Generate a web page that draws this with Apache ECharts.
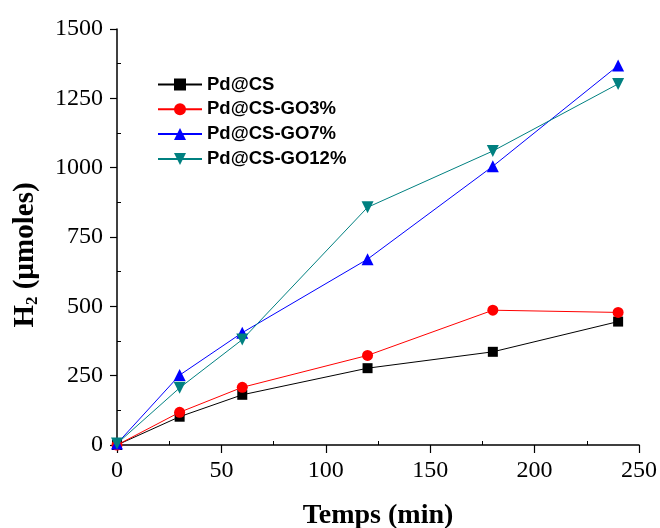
<!DOCTYPE html>
<html>
<head>
<meta charset="utf-8">
<script src="https://cdn.jsdelivr.net/npm/echarts@6/dist/echarts.min.js"></script>
<style>
html,body{margin:0;padding:0;background:#fff;}
#chart{width:660px;height:528px;}
</style>
</head>
<body>
<div id="chart"></div>
<script>
var times = [0, 30, 60, 120, 180, 240];
var seriesNames = ['Pd@CS', 'Pd@CS-GO3%', 'Pd@CS-GO7%', 'Pd@CS-GO12%'];
var pdCS = [0, 102, 181, 277, 336, 445];
var pdGO3 = [0, 118, 208, 323, 486, 478];
var pdGO7 = [5, 252, 405, 670, 1005, 1368];
var pdGO12 = [5, 206, 380, 857, 1060, 1302];
var xMinorTicks = [25, 75, 125, 175, 225];
var yMinorTicks = [125, 375, 625, 875, 1125, 1375];

function pairs(vals) {
  return times.map(function (t, i) { return [t, vals[i]]; });
}

var serif = 'Liberation Serif';
var sans = 'Liberation Sans';

function mkSeries(name, vals, color, symbol, size, rotate) {
  return {
    name: name,
    type: 'line',
    data: pairs(vals),
    symbol: symbol,
    symbolSize: size,
    symbolRotate: rotate || 0,
    showAllSymbol: true,
    lineStyle: { color: color, width: 1 },
    itemStyle: { color: color },
    emphasis: { disabled: true },
    animation: false
  };
}

var chart = echarts.init(document.getElementById('chart'), null, { renderer: 'canvas' });
chart.setOption({
  animation: false,
  backgroundColor: '#fff',
  grid: { left: 117, right: 21, top: 29, bottom: 83, containLabel: false, outerBoundsMode: 'none' },
  legend: {
    orient: 'vertical',
    left: 152,
    top: 70,
    itemWidth: 44,
    itemHeight: 15,
    itemGap: 5.8,
    data: seriesNames,
    textStyle: { fontFamily: sans, fontWeight: 'bold', fontSize: 18.5, color: '#000', lineHeight: 19 }
  },
  xAxis: [{
    type: 'value',
    min: 0, max: 250, interval: 50,
    name: 'Temps (min)',
    nameLocation: 'middle',
    nameGap: 57,
    nameTextStyle: { fontFamily: serif, fontWeight: 'bold', fontSize: 28, color: '#000' },
    axisLine: { show: true, onZero: false, lineStyle: { color: '#000', width: 1.5 } },
    axisTick: { show: true, inside: false, length: 8, lineStyle: { color: '#000', width: 1.2 } },
    axisLabel: { fontFamily: serif, fontSize: 24, color: '#000', margin: 14 },
    splitLine: { show: false }
  }, {
    type: 'value',
    position: 'bottom',
    min: 0, max: 250,
    axisLine: { show: false },
    axisTick: { show: true, inside: true, length: 4, customValues: xMinorTicks, lineStyle: { color: '#000', width: 1 } },
    axisLabel: { show: false },
    splitLine: { show: false }
  }],
  yAxis: [{
    type: 'value',
    min: 0, max: 1500, interval: 250,
    axisLine: { show: true, onZero: false, lineStyle: { color: '#000', width: 1.5 } },
    axisTick: { show: true, inside: false, length: 7, lineStyle: { color: '#000', width: 1.2 } },
    axisLabel: { fontFamily: serif, fontSize: 24, color: '#000', margin: 14, formatter: function (v) { return String(v); } },
    splitLine: { show: false }
  }, {
    type: 'value',
    position: 'left',
    min: 0, max: 1500,
    axisLine: { show: false },
    axisTick: { show: true, inside: true, length: 4, customValues: yMinorTicks, lineStyle: { color: '#000', width: 1 } },
    axisLabel: { show: false },
    splitLine: { show: false }
  }],
  graphic: [{
    type: 'text',
    x: 26,
    y: 255,
    rotation: Math.PI / 2,
    style: {
      text: '{b|H}{s|2}{b| (µmoles)}',
      align: 'center',
      verticalAlign: 'middle',
      fill: '#000',
      rich: {
        b: { fontFamily: serif, fontWeight: 'bold', fontSize: 29, fill: '#000', lineHeight: 31, verticalAlign: 'middle' },
        s: { fontFamily: serif, fontWeight: 'bold', fontSize: 17, fill: '#000', lineHeight: 31, verticalAlign: 'bottom', padding: [10, 0, 0, 0] }
      }
    }
  }],
  series: [
    mkSeries(seriesNames[0], pdCS, '#000000', 'rect', 10),
    mkSeries(seriesNames[1], pdGO3, '#ff0000', 'circle', 11),
    mkSeries(seriesNames[2], pdGO7, '#0000ff', 'triangle', 12),
    mkSeries(seriesNames[3], pdGO12, '#008080', 'triangle', 12, 180)
  ]
});
</script>
</body>
</html>
